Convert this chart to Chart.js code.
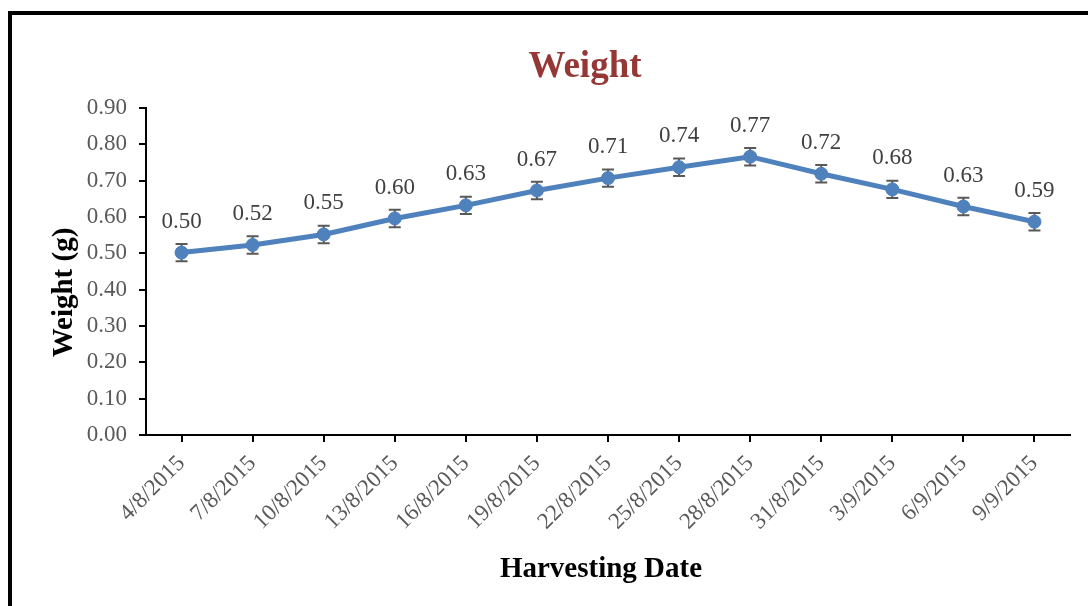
<!DOCTYPE html>
<html>
<head>
<meta charset="utf-8">
<script src="https://cdn.jsdelivr.net/npm/chart.js@4"></script>
<style>
  html, body { margin: 0; padding: 0; background: #fff; overflow: hidden; }
  #wrap { position: relative; width: 1088px; height: 606px; }
  #frame { position: absolute; left: 8px; top: 11px; width: 1100px; height: 620px; border: 4px solid #000; }
  #chart { position: absolute; left: 0; top: 0; }
</style>
</head>
<body>
<div id="wrap">
  <div id="frame"></div>
  <canvas id="chart" width="1088" height="606"></canvas>
</div>
<script>
const dates = ['4/8/2015', '7/8/2015', '10/8/2015', '13/8/2015', '16/8/2015', '19/8/2015', '22/8/2015',
  '25/8/2015', '28/8/2015', '31/8/2015', '3/9/2015', '6/9/2015', '9/9/2015'];
const weights = [0.502, 0.523, 0.552, 0.596, 0.632, 0.673, 0.707, 0.737, 0.766, 0.719, 0.676, 0.629, 0.587];
const errors = [0.024, 0.024, 0.024, 0.024, 0.024, 0.024, 0.024, 0.024, 0.024, 0.024, 0.024, 0.024, 0.024];
const yTicks = [0, 0.1, 0.2, 0.3, 0.4, 0.5, 0.6, 0.7, 0.8, 0.9];

const chartTitle = 'Weight';
const xTitle = 'Harvesting Date';
const yTitle = 'Weight (g)';

const serif = '"Liberation Serif", "Times New Roman", serif';

// error bars go under the markers, labels and titles on top
const extras = {
  id: 'extras',
  beforeDatasetsDraw(chart) {
    const ctx = chart.ctx;
    const x = chart.scales.x, y = chart.scales.y;
    ctx.save();
    ctx.strokeStyle = '#595959';
    ctx.lineWidth = 2;
    weights.forEach((v, i) => {
      const px = x.getPixelForValue(i);
      const top = y.getPixelForValue(v + errors[i]);
      const bot = y.getPixelForValue(v - errors[i]);
      ctx.beginPath();
      ctx.moveTo(px, top); ctx.lineTo(px, bot);
      ctx.moveTo(px - 6, top); ctx.lineTo(px + 6, top);
      ctx.moveTo(px - 6, bot); ctx.lineTo(px + 6, bot);
      ctx.stroke();
    });
    ctx.restore();
  },
  afterDatasetsDraw(chart) {
    const ctx = chart.ctx;
    const x = chart.scales.x, y = chart.scales.y;
    const area = chart.chartArea;
    ctx.save();
    ctx.fillStyle = '#404040';
    ctx.font = '23px ' + serif;
    ctx.textAlign = 'center';
    ctx.textBaseline = 'middle';
    weights.forEach((v, i) => {
      ctx.fillText(v.toFixed(2), x.getPixelForValue(i), y.getPixelForValue(v) - 31);
    });

    const midX = (area.left + area.right) / 2;
    const midY = (area.top + area.bottom) / 2;

    ctx.fillStyle = '#953735';
    ctx.font = 'bold 37px ' + serif;
    ctx.fillText(chartTitle, midX - 23, 67);

    ctx.fillStyle = '#000';
    ctx.font = 'bold 29px ' + serif;
    ctx.fillText(xTitle, midX - 7, 570);

    ctx.translate(65, midY + 21);
    ctx.rotate(-Math.PI / 2);
    ctx.fillText(yTitle, 0, 0);
    ctx.restore();
  }
};

new Chart(document.getElementById('chart'), {
  type: 'line',
  data: {
    labels: dates,
    datasets: [{
      label: 'Weight',
      data: weights,
      borderColor: '#4f81bd',
      backgroundColor: '#4f81bd',
      borderWidth: 5,
      pointRadius: 6.5,
      pointBorderWidth: 1,
      pointBackgroundColor: '#4f81bd',
      pointBorderColor: '#4f81bd',
      tension: 0
    }]
  },
  options: {
    responsive: false,
    animation: false,
    layout: { padding: { left: 0, right: 18, top: 108, bottom: 0 } },
    plugins: {
      legend: { display: false },
      tooltip: { enabled: false },
      title: { display: false }
    },
    scales: {
      x: {
        offset: true,
        grid: { display: true, drawOnChartArea: false, offset: false, drawTicks: true, tickLength: 7, color: '#000', lineWidth: 2 },
        border: { display: true, color: '#000', width: 2 },
        ticks: {
          color: '#595959',
          font: { family: serif, size: 23 },
          minRotation: 45, maxRotation: 45,
          padding: 8,
          autoSkip: false
        },
        afterFit(s) { s.height = 171; }
      },
      y: {
        min: 0, max: 0.9,
        afterBuildTicks(s) { s.ticks = yTicks.map(v => ({ value: v })); },
        grid: { display: true, drawOnChartArea: false, drawTicks: true, tickLength: 7, color: '#000', lineWidth: 2 },
        border: { display: true, color: '#000', width: 2 },
        ticks: {
          color: '#595959',
          font: { family: serif, size: 23 },
          padding: 12,
          callback: v => Number(v).toFixed(2)
        },
        afterFit(s) { s.width = 146; }
      }
    }
  },
  plugins: [extras]
});
</script>
</body>
</html>
